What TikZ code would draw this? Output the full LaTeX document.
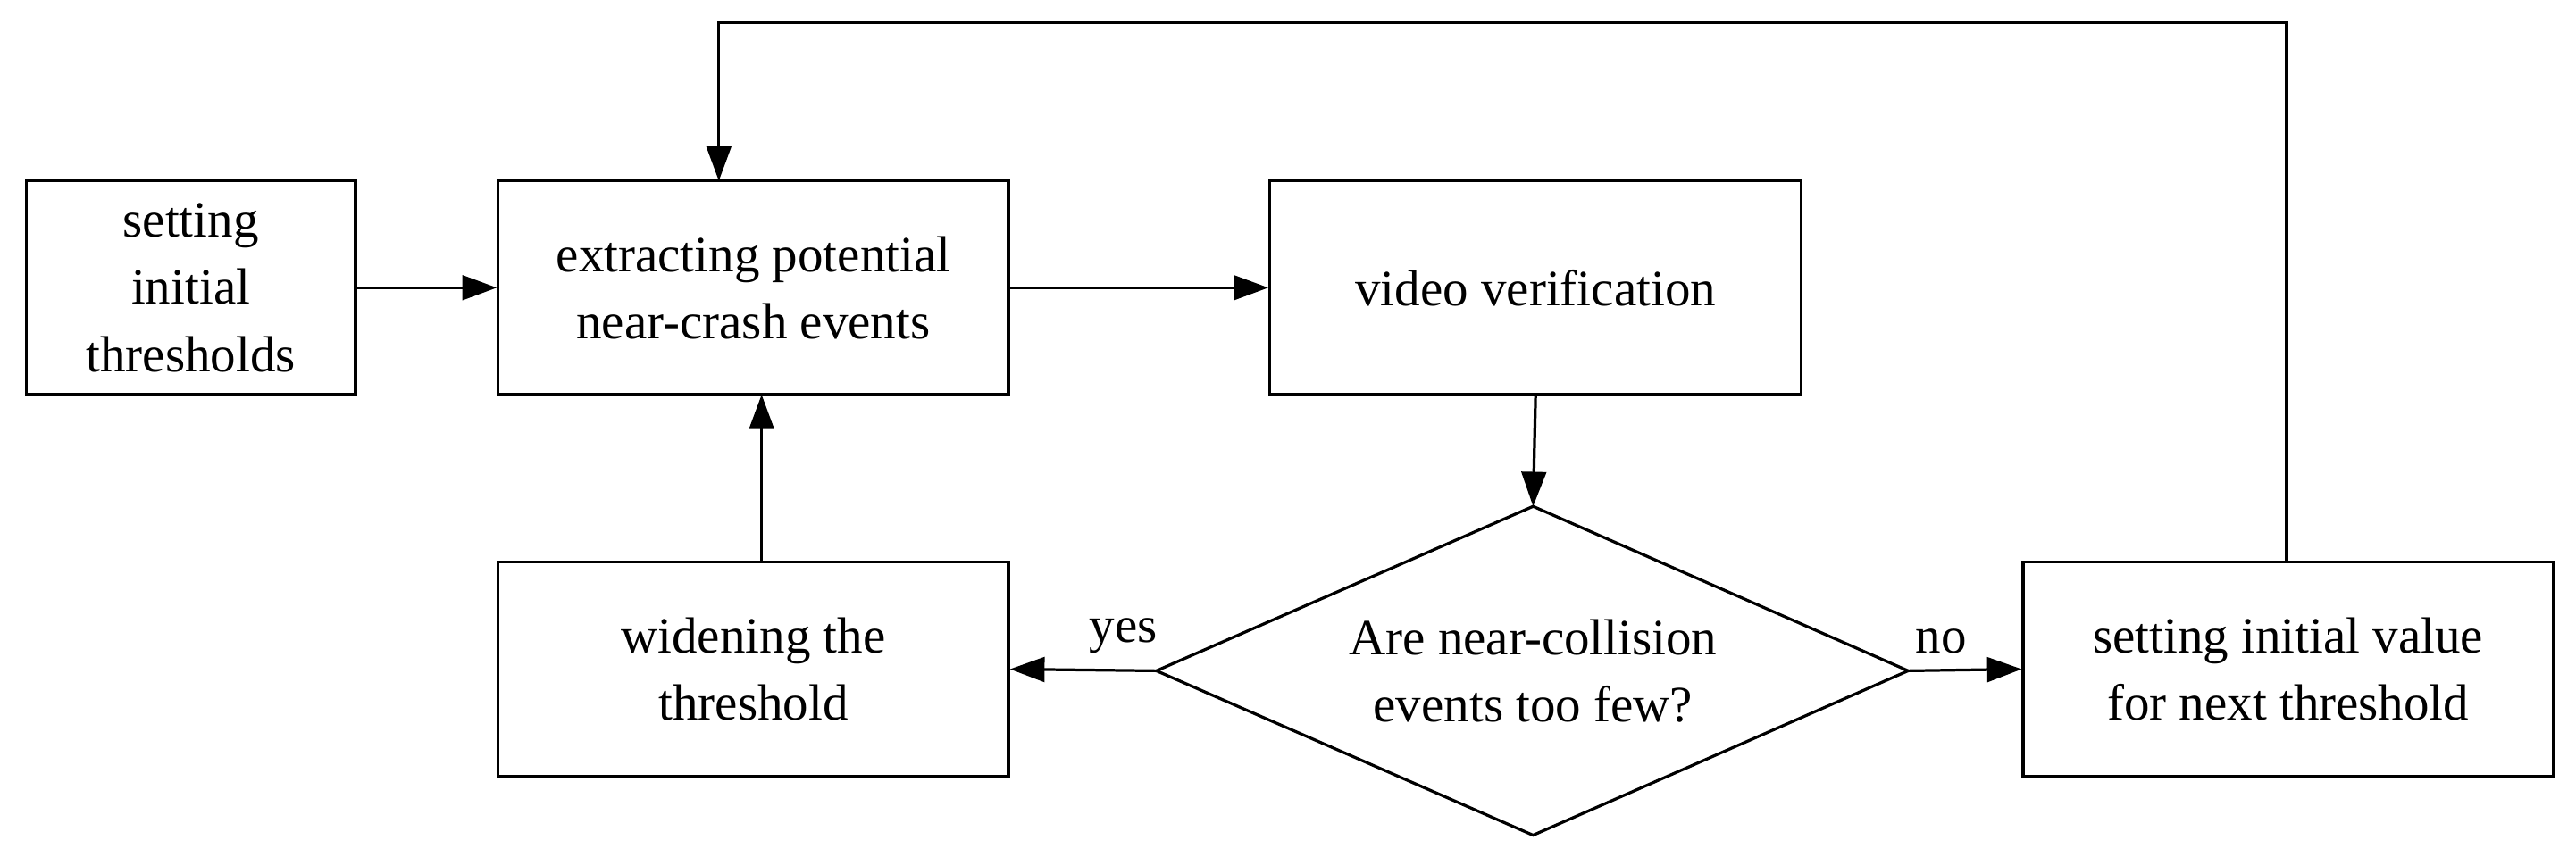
\documentclass[tikz,border=0pt]{standalone}
\usepackage{fontspec}
\setmainfont{Liberation Serif}
\usetikzlibrary{arrows.meta,shapes.geometric}
\begin{document}
\begin{tikzpicture}[x=0.01cm,y=-0.01cm,
  every path/.style={line width=0.5pt},
  box/.style={draw,line width=0.5pt,align=center,font=\fontsize{8.8}{11.6}\selectfont,inner sep=0pt},
  arr/.style={-{Triangle[length=0.21cm,width=0.15cm]},line width=0.5pt},
  lab/.style={font=\fontsize{8.8}{11.6}\selectfont,inner sep=1pt}]
\useasboundingbox (0,0) rectangle (1566,521);
\node[box,minimum width=2cm,minimum height=1.3cm] (a) at (116,175) {setting\\initial\\thresholds};
\node[box,minimum width=3.1cm,minimum height=1.3cm] (b) at (458,175) {extracting potential\\near-crash events};
\node[box,minimum width=3.23cm,minimum height=1.3cm] (c) at (933.5,175) {video verification};
\node[box,draw=none] (d) at (932,408) {Are near-collision\\events too few?};
\draw (703,408) coordinate (dl) -- (932,308) coordinate (dt) -- (1160,408) coordinate (dr) -- (932,508) -- cycle;
\node[box,minimum width=3.1cm,minimum height=1.3cm] (w) at (458,407) {widening the\\threshold};
\node[box,minimum width=3.22cm,minimum height=1.3cm] (s) at (1391,407) {setting initial value\\for next threshold};
\draw[arr] (a.east) -- (b.east -| b.west);
\draw[arr] (b.east) -- (c.west);
\draw[arr] (c.south) -- (dt);
\draw[arr] (dl) -- (w.east);
\draw[arr] (dr) -- (s.west);
\draw[arr] (w.north -| 463,0) -- (463,240);
\coordinate (t1) at (1390,14);
\draw[arr] (1390,342) -- (t1) -- (437,14) -- (437,110);
\node[lab,anchor=south] (y) at (683,402) {yes};
\node[lab,anchor=south] (n) at (1180,402) {no};
\end{tikzpicture}
\end{document}
